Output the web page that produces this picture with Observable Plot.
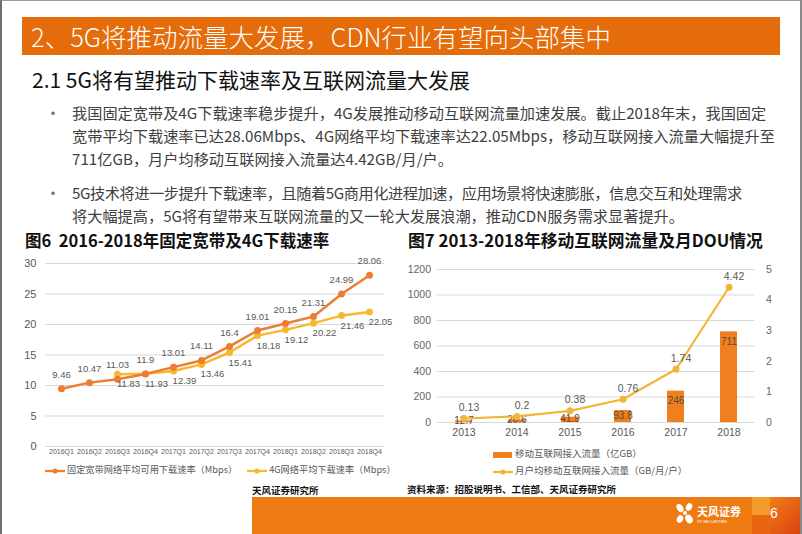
<!DOCTYPE html>
<html><head><meta charset="utf-8">
<script src="https://cdn.jsdelivr.net/npm/d3@7"></script>
<script src="https://cdn.jsdelivr.net/npm/@observablehq/plot@0.6"></script>
<style>
html,body{margin:0;padding:0}
body{width:802px;height:534px;overflow:hidden;background:#fff;position:relative;font-family:"Noto Sans CJK SC","Noto Sans",sans-serif;color:#404040}
.abs{position:absolute;white-space:nowrap}
#frame{position:absolute;left:0;top:0;width:802px;height:534px;box-sizing:border-box;border-top:1px solid #9a9a9a;border-left:2px solid #6f6f6f;border-right:2px solid #8a8a8a;pointer-events:none;z-index:5}
.banner{left:22px;top:17px;width:758px;height:38px;background:#E46C0A;color:#fff;font-size:25.5px;line-height:38px;font-weight:300;padding-left:9px;box-sizing:border-box}
.sub{left:32px;top:64px;font-size:21px;line-height:30px;color:#111;font-weight:400}
.bul{left:45px;font-size:16px;line-height:20px;color:#777}
.line{left:72px;font-size:15.2px;line-height:20px;color:#404040}
.ctitle{font-size:16.5px;font-weight:700;color:#111;line-height:20px}
.leg{font-size:9.2px;color:#595959;line-height:12px}
.src{font-size:9.5px;font-weight:700;color:#111;line-height:12px}
.footer{left:252px;top:497px;width:550px;height:37px;background:#EE7A12}
</style></head><body>
<div id="frame"></div>
<div class="abs banner">2、5G将推动流量大发展，CDN行业有望向头部集中</div>
<div class="abs sub">2.1 5G将有望推动下载速率及互联网流量大发展</div>

<div class="abs bul" style="top:102px">•</div>
<div class="abs line" style="top:102px">我国固定宽带及4G下载速率稳步提升，4G发展推动移动互联网流量加速发展。截止2018年末，我国固定</div>
<div class="abs line" style="top:125px">宽带平均下载速率已达28.06Mbps、4G网络平均下载速率达22.05Mbps，移动互联网接入流量大幅提升至</div>
<div class="abs line" style="top:148px">711亿GB，月户均移动互联网接入流量达4.42GB/月/户。</div>
<div class="abs bul" style="top:182px">•</div>
<div class="abs line" style="top:182px;letter-spacing:-0.45px">5G技术将进一步提升下载速率，且随着5G商用化进程加速，应用场景将快速膨胀，信息交互和处理需求</div>
<div class="abs line" style="top:205px">将大幅提高，5G将有望带来互联网流量的又一轮大发展浪潮，推动CDN服务需求显著提升。</div>

<div class="abs ctitle" style="left:25px;top:230px">图6&nbsp;&nbsp;2016-2018年固定宽带及4G下载速率</div>
<div class="abs ctitle" style="left:408px;top:230px;font-size:16.8px">图7 2013-2018年移动互联网流量及月DOU情况</div>

<div id="c1" class="abs" style="left:0;top:255px"></div>
<div id="c2" class="abs" style="left:400px;top:258px"></div>

<div id="leg1" class="abs leg" style="left:45px;top:463px"></div>
<div id="leg2a" class="abs leg" style="left:493px;top:447px"></div>
<div id="leg2b" class="abs leg" style="left:493px;top:464px"></div>

<div class="abs src" style="left:252px;top:484px">天风证券研究所</div>
<div class="abs src" style="left:407px;top:483px">资料来源：招股说明书、工信部、天风证券研究所</div>

<div class="abs footer"></div>
<div class="abs" style="left:752px;top:497px;width:18px;height:18px;background:#F39A2A"></div>
<div class="abs" style="left:752px;top:515px;width:18px;height:19px;background:#E9650F"></div>
<div class="abs" style="left:770px;top:497px;width:32px;height:37px;background:linear-gradient(135deg,#F0801A,#D9400E)"></div>
<div class="abs" style="left:770px;top:503px;color:#fff;font-family:'Liberation Sans',Arial,sans-serif;font-size:14px;line-height:20px">6</div>
<svg class="abs" style="left:675px;top:503px" width="20" height="22" viewBox="0 0 20 22">
  <ellipse cx="5" cy="5" rx="3" ry="4.5" fill="#fff" transform="rotate(-30 5 5)"/>
  <ellipse cx="14" cy="4" rx="3" ry="4" fill="#fff" transform="rotate(30 14 4)"/>
  <ellipse cx="5" cy="16" rx="3" ry="4" fill="#fff" transform="rotate(30 5 16)"/>
  <ellipse cx="14" cy="16" rx="3.5" ry="4.5" fill="#fff" transform="rotate(-30 14 16)"/>
  <circle cx="10" cy="10" r="2" fill="#fff"/>
</svg>
<div class="abs" style="left:697px;top:504px;color:#fff;font-size:11px;font-weight:700;line-height:14px">天风证券</div>
<div class="abs" style="left:697px;top:519px;color:#fff;font-size:4px;line-height:5px;font-family:'Liberation Sans',Arial">TF SECURITIES</div>

<script>
// ---- Data: Figure 6 ----
const quarters = ["2016Q1","2016Q2","2016Q3","2016Q4","2017Q1","2017Q2","2017Q3","2017Q4","2018Q1","2018Q2","2018Q3","2018Q4"];
const broadband = [9.46,10.47,11.03,11.9,13.01,14.11,16.4,19.01,20.15,21.31,24.99,28.06];
const lte4g = [null,null,11.83,11.93,12.39,13.46,15.41,18.18,19.12,20.22,21.46,22.05];
const speedTicks = [0,5,10,15,20,25,30];
const seriesNames1 = ["固定宽带网络平均可用下载速率（Mbps）","4G网络平均下载速率（Mbps）"];

// ---- Data: Figure 7 ----
const years = ["2013","2014","2015","2016","2017","2018"];
const traffic = [12.7,20.6,41.9,93.8,246,711];      // 亿GB
const dou = [0.13,0.2,0.38,0.76,1.74,4.42];         // GB/月/户
const trafficTicks = [0,200,400,600,800,1000,1200];
const douTicks = [0,1,2,3,4,5];
const seriesNames2 = ["移动互联网接入流量（亿GB）","月户均移动互联网接入流量（GB/月/户）"];

const cOrange = "#ED7D31", cGold = "#F7B731", cBar = "#F07F1F", cDou = "#F2B535";
const numFont = "'Liberation Sans', Arial, sans-serif";

// ---- Chart 1 ----
const bb = quarters.map((q,i)=>({q, v:broadband[i]}));
const g4 = quarters.map((q,i)=>({q, v:lte4g[i]})).filter(d=>d.v!=null);
const c1 = Plot.plot({
  width:400, height:205, marginTop:8, marginBottom:14, marginLeft:45, marginRight:16,
  style:{fontFamily:numFont, background:"transparent", overflow:"visible"},
  x:{type:"point", domain:quarters, padding:0.5},
  y:{domain:[0,30]},
  marks:[
    Plot.gridY(speedTicks,{stroke:"#d9d9d9", strokeOpacity:1}),
    Plot.axisY(speedTicks,{tickSize:0, tickPadding:9, fontSize:11, fill:"#595959", label:null}),
    Plot.axisX({tickSize:0, tickPadding:3, fontSize:7, fill:"#595959", label:null}),
    Plot.line(g4,{x:"q", y:"v", stroke:cGold, strokeWidth:2.5}),
    Plot.dot(g4,{x:"q", y:"v", fill:cGold, r:3.5}),
    Plot.line(bb,{x:"q", y:"v", stroke:cOrange, strokeWidth:2.5}),
    Plot.dot(bb,{x:"q", y:"v", fill:cOrange, r:3.5}),
    Plot.text(bb,{x:"q", y:"v", text:d=>String(d.v), dy:-14, fontSize:9.5, fill:"#595959"}),
    Plot.text(g4,{x:"q", y:"v", text:d=>String(d.v), dy:10, dx:11, fontSize:9.5, fill:"#595959"})
  ]
});
document.getElementById("c1").appendChild(c1);

// ---- Chart 2 (dual axis: DOU mapped onto traffic scale) ----
const k = trafficTicks[trafficTicks.length-1] / douTicks[douTicks.length-1];
const d2 = years.map((y,i)=>({y, t:traffic[i], u:dou[i]}));
const c2 = Plot.plot({
  width:402, height:185, marginTop:11, marginBottom:21, marginLeft:36.5, marginRight:47.5,
  style:{fontFamily:numFont, background:"transparent", overflow:"visible"},
  x:{type:"band", domain:years, paddingInner:0.68, paddingOuter:0.34},
  y:{domain:[0,1200]},
  marks:[
    Plot.gridY(trafficTicks,{stroke:"#d9d9d9", strokeOpacity:1}),
    Plot.axisY(trafficTicks,{anchor:"left", tickSize:0, tickPadding:6, fontSize:10.5, fill:"#666", label:null, tickFormat:d=>String(d)}),
    Plot.axisY(douTicks.map(v=>v*k),{anchor:"right", tickSize:0, tickPadding:11, fontSize:10.5, fill:"#666", label:null, tickFormat:d=>String(d/k)}),
    Plot.axisX({tickSize:0, tickPadding:6, fontSize:10.5, fill:"#595959", label:null}),
    Plot.barY(d2,{x:"y", y:"t", fill:cBar}),
    Plot.text(d2.filter(d=>d.t>200),{x:"y", y:"t", text:d=>String(d.t), dy:10, fontSize:10, fill:"#5a4a3a"}),
    Plot.text(d2.filter(d=>d.t<=200),{x:"y", y:d=>d.t/2, text:d=>d.t.toFixed(1), dy:-1, fontSize:10, fill:"#5a4a3a"}),
    Plot.line(d2,{x:"y", y:d=>d.u*k, stroke:cDou, strokeWidth:2.2}),
    Plot.dot(d2,{x:"y", y:d=>d.u*k, fill:cDou, r:3.5}),
    Plot.text(d2,{x:"y", y:d=>d.u*k, text:d=>String(d.u), dy:-11, dx:5, fontSize:10.5, fill:"#595959"})
  ]
});
document.getElementById("c2").appendChild(c2);

// ---- Legends ----
function lineSwatch(color){
  return `<svg width="20" height="8" style="vertical-align:middle;margin-right:2px"><line x1="0" y1="4" x2="20" y2="4" stroke="${color}" stroke-width="2.2"/><circle cx="10" cy="4" r="2.6" fill="${color}"/></svg>`;
}
document.getElementById("leg1").innerHTML =
  lineSwatch(cOrange) + `<span>${seriesNames1[0]}</span>` +
  `<span style="display:inline-block;width:10px"></span>` +
  lineSwatch(cGold) + `<span>${seriesNames1[1]}</span>`;
document.getElementById("leg2a").innerHTML =
  `<svg width="20" height="8" style="vertical-align:middle;margin-right:2px"><rect x="0" y="1" width="19" height="6" fill="${cBar}"/></svg><span style="font-size:9.5px">${seriesNames2[0]}</span>`;
document.getElementById("leg2b").innerHTML =
  lineSwatch(cDou) + `<span style="font-size:9.5px">${seriesNames2[1]}</span>`;
</script>
</body></html>
